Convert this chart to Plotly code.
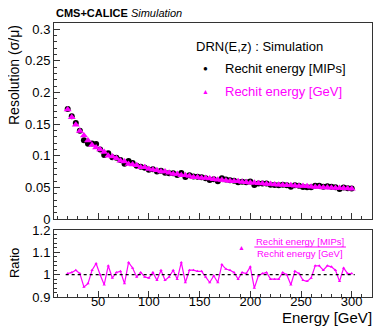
import plotly.graph_objects as go

energy = list(range(20, 301, 4))

res_gev = [0.173, 0.161, 0.149, 0.139, 0.132, 0.124, 0.117, 0.113, 0.110, 0.106,
           0.100, 0.099, 0.096, 0.092, 0.091, 0.087, 0.086, 0.085, 0.082, 0.082,
           0.079, 0.078, 0.077, 0.075, 0.075, 0.073, 0.071, 0.071, 0.069, 0.069,
           0.068, 0.066, 0.066, 0.065, 0.065, 0.064, 0.063, 0.062, 0.0615, 0.061,
           0.060, 0.0598, 0.0595, 0.0585, 0.058, 0.0572, 0.0572, 0.0565, 0.056, 0.0555,
           0.0553, 0.0547, 0.0543, 0.0537, 0.0534, 0.0532, 0.0525, 0.0522, 0.052, 0.0516,
           0.0511, 0.0506, 0.0505, 0.050, 0.0497, 0.0494, 0.0491, 0.049, 0.0485, 0.0482,
           0.048]

ratio = [1.005, 1.01, 1.02, 1.005, 0.945, 0.96, 1.02, 1.05, 1.0, 0.955,
         1.04, 0.985, 1.01, 1.015, 0.96, 1.055, 1.03, 0.99, 1.01, 0.99,
         0.985, 1.01, 0.975, 1.02, 0.975, 0.99, 1.02, 0.98, 1.055, 0.965,
         1.02, 1.02, 1.015, 1.015, 0.99,
         0.965, 0.995, 0.965, 1.045, 1.025, 1.02, 1.01, 0.98, 1.01, 1.005,
         1.035, 0.94, 0.995, 1.005, 1.01, 0.98, 0.98, 0.98, 1.01, 1.0,
         0.955, 1.015, 1.005, 0.975, 0.97, 0.985, 1.04, 1.04, 1.02, 1.04,
         1.035, 1.02, 0.97, 1.03, 1.005, 1.005]

res_mips = [g * r for g, r in zip(res_gev, ratio)]

FONT = "Liberation Sans, Arial, sans-serif"
MAG = "#ff00ff"

fig = go.Figure()
fig.add_trace(go.Scatter(x=energy, y=res_mips, mode="markers", xaxis="x", yaxis="y",
                         marker=dict(symbol="circle", size=6, color="black"),
                         showlegend=False))
fig.add_trace(go.Scatter(x=energy, y=res_gev, mode="markers", xaxis="x", yaxis="y",
                         marker=dict(symbol="triangle-up", size=7, color=MAG),
                         showlegend=False))
fig.add_trace(go.Scatter(x=energy, y=ratio, mode="lines+markers", xaxis="x2", yaxis="y2",
                         line=dict(color=MAG, width=1.2),
                         marker=dict(symbol="triangle-up", size=3, color=MAG),
                         showlegend=False))
# invisible trace to register the label-only axis
fig.add_trace(go.Scatter(x=[energy[0]], y=[ratio[0]], mode="markers", xaxis="x3", yaxis="y2",
                         marker=dict(size=0.1, opacity=0), showlegend=False, hoverinfo="skip"))

xr = [6.5, 320]
axis_common = dict(showline=True, linecolor="#333", linewidth=1, mirror=True,
                   ticks="inside", ticklen=6, tickcolor="#333", showgrid=False,
                   zeroline=False, tickfont=dict(family=FONT, size=13, color="black"))

fig.update_layout(
    width=373, height=324,
    margin=dict(l=46, r=9, t=15, b=35),
    paper_bgcolor="white", plot_bgcolor="white",
    xaxis=dict(axis_common, range=xr, domain=[0, 1], anchor="y", dtick=50, tick0=0,
               showticklabels=False,
               minor=dict(ticks="inside", ticklen=3, dtick=10, tickcolor="#333")),
    yaxis=dict(axis_common, range=[0, 0.31], domain=[0.2847, 1], anchor="x", dtick=0.05,
               tick0=0, minor=dict(ticks="inside", ticklen=3, dtick=0.01, tickcolor="#333")),
    xaxis2=dict(axis_common, range=xr, domain=[0, 1], anchor="y2", dtick=50, tick0=0,
                showticklabels=False,
                minor=dict(ticks="inside", ticklen=3, dtick=10, tickcolor="#333")),
    xaxis3=dict(range=xr, domain=[0, 1], anchor="free", position=5 / 274, overlaying="x2",
                side="bottom", dtick=50, tick0=0, showline=False, ticks="", showgrid=False,
                zeroline=False, tickfont=dict(family=FONT, size=13, color="black")),
    yaxis2=dict(axis_common, range=[0.9, 1.2], domain=[0, 0.2445], anchor="x2",
                tickvals=[0.9, 1.0, 1.1, 1.2], ticktext=["0.9", "1", "1.1", "1.2"],
                minor=dict(ticks="inside", ticklen=3, dtick=0.02, tickcolor="#333")),
    showlegend=False,
)

fig.add_shape(type="line", xref="x2", yref="y2", x0=energy[0] - 2, x1=energy[-1] + 3,
              y0=1, y1=1, line=dict(color="black", width=1.2, dash="dot"))

ann = []
ann.append(dict(text="<b>CMS+CALICE</b> <i>Simulation</i>", xref="paper", yref="paper",
                x=0.0, y=1.0, xanchor="left", yanchor="bottom", yshift=2,
                showarrow=False, font=dict(family=FONT, size=11, color="black")))
ann.append(dict(text="Resolution (σ/μ)", xref="paper", yref="paper", x=0, y=1,
                xanchor="right", yanchor="top", xshift=-30, textangle=-90,
                showarrow=False, font=dict(family=FONT, size=14, color="black")))
ann.append(dict(text="Ratio", xref="paper", yref="paper", x=0, y=0.1222,
                xanchor="right", yanchor="middle", xshift=-30, textangle=-90,
                showarrow=False, font=dict(family=FONT, size=13, color="black")))
ann.append(dict(text="Energy [GeV]", xref="paper", yref="paper", x=1, y=0,
                xanchor="right", yanchor="top", yshift=-10, xshift=2,
                showarrow=False, font=dict(family=FONT, size=15, color="black")))
# main legend
ann.append(dict(text="DRN(E,z) : Simulation", xref="paper", yref="paper", x=0.44, y=1,
                xanchor="left", yanchor="middle", yshift=-23,
                showarrow=False, font=dict(family=FONT, size=13, color="black")))
ann.append(dict(text="●", xref="paper", yref="paper", x=0.477, y=1,
                xanchor="center", yanchor="middle", yshift=-45,
                showarrow=False, font=dict(family=FONT, size=8, color="black")))
ann.append(dict(text="Rechit energy [MIPs]", xref="paper", yref="paper", x=0.531, y=1,
                xanchor="left", yanchor="middle", yshift=-45,
                showarrow=False, font=dict(family=FONT, size=13, color="black")))
ann.append(dict(text="▲", xref="paper", yref="paper", x=0.477, y=1,
                xanchor="center", yanchor="middle", yshift=-68,
                showarrow=False, font=dict(family=FONT, size=7, color=MAG)))
ann.append(dict(text="Rechit energy [GeV]", xref="paper", yref="paper", x=0.531, y=1,
                xanchor="left", yanchor="middle", yshift=-68,
                showarrow=False, font=dict(family=FONT, size=13, color=MAG)))
# ratio legend
ann.append(dict(text="▲", xref="paper", yref="paper", x=0.591, y=0.2445,
                xanchor="center", yanchor="middle", yshift=-17,
                showarrow=False, font=dict(family=FONT, size=7, color=MAG)))
ann.append(dict(text="Rechit energy [MIPs]", xref="paper", yref="paper", x=0.774, y=0.2445,
                xanchor="center", yanchor="middle", yshift=-11,
                showarrow=False, font=dict(family=FONT, size=9.5, color=MAG)))
ann.append(dict(text="Rechit energy [GeV]", xref="paper", yref="paper", x=0.774, y=0.2445,
                xanchor="center", yanchor="middle", yshift=-23,
                showarrow=False, font=dict(family=FONT, size=9.5, color=MAG)))
fig.update_layout(annotations=ann)
fig.add_shape(type="line", xref="paper", yref="paper", x0=0.63, x1=0.918,
              y0=0.2445 - 17 / 274, y1=0.2445 - 17 / 274, line=dict(color=MAG, width=1))

fig.write_html("out.html")
